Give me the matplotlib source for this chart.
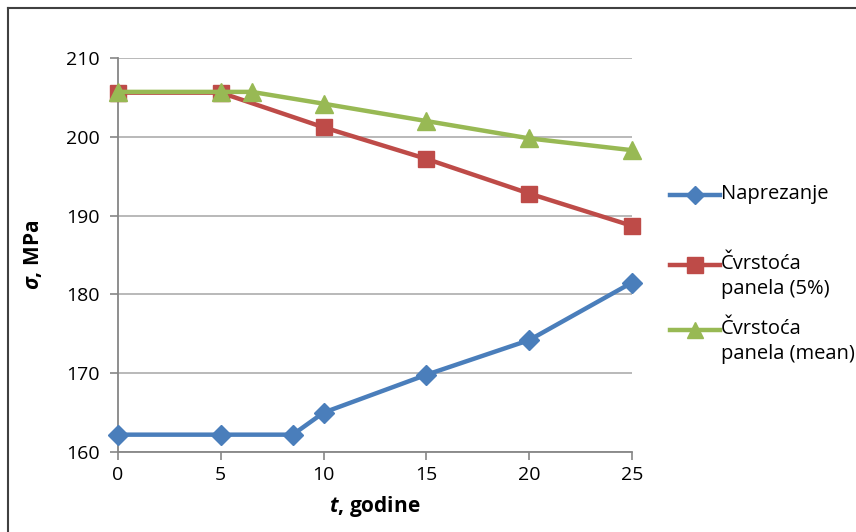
import matplotlib.pyplot as plt
from matplotlib.lines import Line2D

plt.rcParams["font.family"] = ["Open Sans", "DejaVu Sans"]
plt.rcParams["mathtext.fontset"] = "custom"
plt.rcParams["mathtext.it"] = "Open Sans:italic:bold"
plt.rcParams["mathtext.rm"] = "Open Sans:bold"

# data
t_napr = [0, 5, 8.5, 10, 15, 20, 25]
napr = [162.2, 162.2, 162.2, 165.0, 169.8, 174.2, 181.5]

t_5 = [0, 5, 10, 15, 20, 25]
cvrst_5 = [205.6, 205.6, 201.2, 197.2, 192.8, 188.7]

t_mean = [0, 5, 6.5, 10, 15, 20, 25]
cvrst_mean = [205.7, 205.7, 205.7, 204.2, 202.0, 199.8, 198.3]

labels = ["Naprezanje", "Čvrstoća\npanela (5%)", "Čvrstoća\npanela (mean)"]
x_ticks = [0, 5, 10, 15, 20, 25]
y_ticks = [160, 170, 180, 190, 200, 210]

W, H = 856, 532
fig = plt.figure(figsize=(W / 100, H / 100), dpi=100)
ax = fig.add_axes([118 / W, 1 - 452 / H, (632 - 118) / W, (452 - 58) / H])

styles = [
    dict(color="#4a7ebb", marker="D", ms=10),
    dict(color="#be4b48", marker="s", ms=12),
    dict(color="#98b954", marker="^", ms=13),
]
series = [(t_napr, napr), (t_5, cvrst_5), (t_mean, cvrst_mean)]
for (x, y), st, lab, z in zip(series, styles, labels, [3, 3, 4]):
    ax.plot(x, y, lw=3.2, label=lab, zorder=z, clip_on=False, **st)

ax.set_xlim(0, 25)
ax.set_ylim(160, 210)
ax.set_xticks(x_ticks)
ax.set_yticks(y_ticks)
ax.tick_params(labelsize=14, color="#868686", length=6, width=1.2, direction="out")
ax.tick_params(axis="x", pad=4)
ax.tick_params(axis="y", pad=7)
ax.grid(axis="y", color="#a6a6a6", lw=1.1)
ax.set_axisbelow(True)
for s in ["top", "right"]:
    ax.spines[s].set_visible(False)
for s in ["left", "bottom"]:
    ax.spines[s].set_color("#868686")
    ax.spines[s].set_linewidth(1.3)

ax.set_xlabel("$t$, godine", fontsize=15, fontweight="bold", labelpad=7)
ax.set_ylabel("$σ$, MPa", fontsize=15, fontweight="bold", labelpad=16)

# legend laid out like the Excel one: handle aligned with the first text line
leg_y = [195, 265, 330]
for yy, st, lab in zip(leg_y, styles, labels):
    fy = 1 - yy / H
    fig.add_artist(Line2D([670 / W, 720 / W], [fy, fy], transform=fig.transFigure,
                          lw=3.2, color=st["color"]))
    fig.add_artist(Line2D([695 / W], [fy], transform=fig.transFigure, lw=0,
                          color=st["color"], marker=st["marker"], ms=st["ms"] - 1))
    fig.text(721 / W, fy + 11 / H, lab, fontsize=14.5, va="top", ha="left",
             linespacing=1.35)

# outer chart frame (top and left edges visible)
fig.add_artist(Line2D([8 / W, 1], [1 - 8 / H, 1 - 8 / H],
                      transform=fig.transFigure, color="#404040", lw=1.5))
fig.add_artist(Line2D([8 / W, 8 / W], [0, 1 - 8 / H],
                      transform=fig.transFigure, color="#404040", lw=1.5))

fig.savefig("out.png", dpi=100)
